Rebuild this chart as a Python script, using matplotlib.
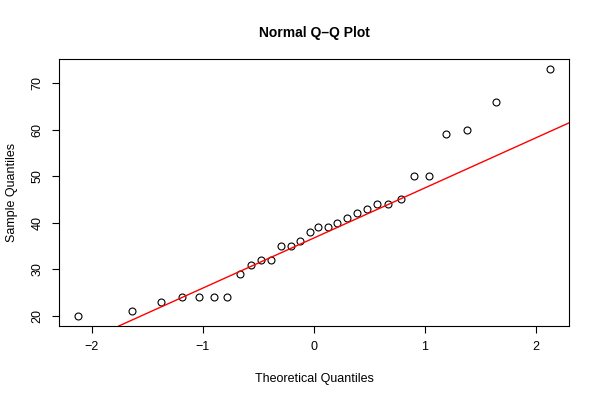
import numpy as np
import matplotlib
matplotlib.use("Agg")
import matplotlib.pyplot as plt

plt.rcParams['font.family'] = ['Liberation Sans', 'DejaVu Sans']

# theoretical normal quantiles (n = 30)
theoretical = [-2.13, -1.64, -1.38, -1.19, -1.04, -0.90, -0.78, -0.67, -0.57, -0.48,
               -0.39, -0.30, -0.21, -0.13, -0.04, 0.04, 0.13, 0.21, 0.30, 0.39,
               0.48, 0.57, 0.67, 0.78, 0.90, 1.04, 1.19, 1.38, 1.64, 2.13]
# sorted sample values
sample = [20, 21, 23, 24, 24, 24, 24, 29, 31, 32,
          32, 35, 35, 36, 38, 39, 39, 40, 41, 42,
          43, 44, 44, 45, 50, 50, 59, 60, 66, 73]

# reference line through the quartiles
q1, q3 = np.percentile(sample, [25, 75])
z1, z3 = -0.6745, 0.6745
slope = (q3 - q1) / (z3 - z1)
intercept = q1 - slope * z1

fig = plt.figure(figsize=(6, 4), dpi=100)
ax = fig.add_axes([59 / 600, 74 / 400, 510 / 600, 267 / 400])

ax.plot(theoretical, sample, linestyle='none', marker='o', markersize=5,
        markerfacecolor='none', markeredgecolor='black', markeredgewidth=0.8)
ax.axline((0, intercept), slope=slope, color='red', linewidth=1)

ax.set_xlim(-2.297, 2.297)
ax.set_ylim(17.85, 75.15)
ax.set_xticks([-2, -1, 0, 1, 2])
ax.set_xticklabels(['\u22122', '\u22121', '0', '1', '2'])
ax.set_yticks([20, 30, 40, 50, 60, 70])
for lbl in ax.get_yticklabels():
    lbl.set_rotation(90)
    lbl.set_va('center')
ax.tick_params(direction='out', length=5, width=0.8, labelsize=9, pad=6)

for s in ax.spines.values():
    s.set_linewidth(0.8)

ax.set_title('Normal Q\u2013Q Plot', fontsize=10, fontweight='bold', pad=16)
ax.set_xlabel('Theoretical Quantiles', fontsize=9, labelpad=14)
ax.set_ylabel('Sample Quantiles', fontsize=9, labelpad=10)

fig.savefig('out.png', dpi=100)
